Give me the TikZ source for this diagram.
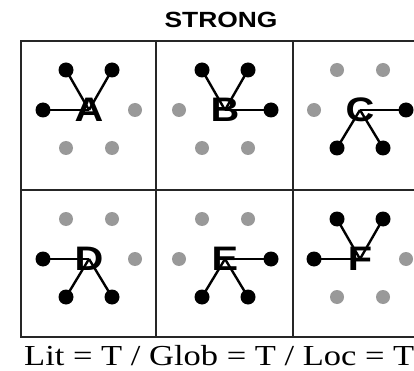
\documentclass[tikz,border=0pt]{standalone}
\usepackage{fontspec}
\setmainfont{Liberation Serif}
\newfontfamily\hfont{Liberation Sans}
\newcommand\mycell[5]{%
  \node[lbl] (#1) at (#2,#3) {\scalebox{1.17}[1]{#1}};
  \foreach \p/\dx/\dy in {tl/-23/-40, tr/23/-40, l/-46/0, r/46/0, bl/-23/38, br/23/38}{
    \coordinate (#1-\p) at (#2+\dx,#3+\dy);
  }
  \foreach \p in {#5}{\node[gdot] (#1-\p-dot) at (#1-\p) {};}
  \foreach \p in {#4}{
    \node[bdot] (#1-\p-dot) at (#1-\p) {};
    \draw[link] (#1-\p-dot.center) -- (#1.center);
  }
}
\begin{document}
\begin{tikzpicture}[x=1pt,y=-1pt,
  bdot/.style={circle,fill=black,inner sep=0pt,minimum size=15pt},
  gdot/.style={circle,fill=black!40,inner sep=0pt,minimum size=14pt},
  link/.style={line width=2.4pt},
  gridline/.style={line width=1.8pt, draw=black!85},
  lbl/.style={font=\hfont\bfseries\fontsize{34}{34}\selectfont, inner sep=0pt}]
\useasboundingbox (0,0) rectangle (414,371);
\clip (0,0) rectangle (414,371);
\fill[white] (0,0) rectangle (414,371);
\draw[gridline] (21,41) rectangle (429,337);
\draw[gridline] (156,41) -- (156,337);
\draw[gridline] (293,41) -- (293,337);
\draw[gridline] (21,190) -- (429,190);
\mycell{A}{89}{110}{tl,tr,l}{r,bl,br}
\mycell{B}{225}{110}{tl,tr,r}{l,bl,br}
\mycell{C}{360}{110}{r,bl,br}{tl,tr,l}
\mycell{D}{89}{259}{l,bl,br}{tl,tr,r}
\mycell{E}{225}{259}{r,bl,br}{l,tl,tr}
\mycell{F}{360}{259}{tl,tr,l}{r,bl,br}
\node[font=\hfont\bfseries\fontsize{22}{22}\selectfont, inner sep=0pt] (title) at (221,20) {\scalebox{1.2}[1]{STRONG}};
\node[anchor=base west, inner sep=0pt, font=\fontsize{29}{29}\selectfont] (cap) at (24,365) {\scalebox{1.19}[1]{Lit = T / Glob = T / Loc = T}};
\end{tikzpicture}
\end{document}
